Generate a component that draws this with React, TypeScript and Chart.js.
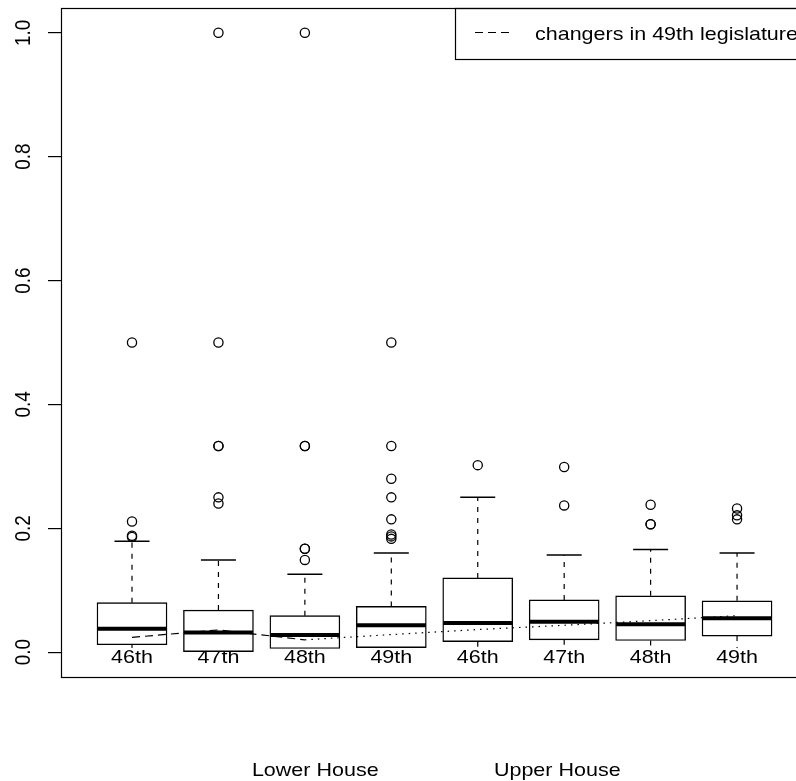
import { useEffect, useRef } from "react";
import { Chart, registerables } from "chart.js";

Chart.register(...registerables);

// ---- data ----
const categories = ["46th", "47th", "48th", "49th", "46th", "47th", "48th", "49th"];
const houseLabels = ["Lower House", "Upper House"];
const yTicks = [0, 0.2, 0.4, 0.6, 0.8, 1.0];
const whiskerLow = [0, 0, 0, 0, 0, 0, 0, 0];
const q1 = [0.012, 0.001, 0.006, 0.0075, 0.017, 0.02, 0.019, 0.026];
const medians = [0.038, 0.032, 0.028, 0.0435, 0.047, 0.049, 0.045, 0.055];
const q3 = [0.08, 0.068, 0.059, 0.074, 0.12, 0.0845, 0.091, 0.083];
const whiskerHigh = [0.179, 0.149, 0.126, 0.16, 0.25, 0.157, 0.166, 0.16];
const outliers = [
  [0.5, 0.211, 0.188, 0.186],
  [1.0, 0.5, 0.333, 0.333, 0.25, 0.24],
  [1.0, 0.333, 0.333, 0.167, 0.167, 0.149],
  [0.5, 0.333, 0.28, 0.25, 0.2145, 0.19, 0.187, 0.183],
  [0.302],
  [0.299, 0.237],
  [0.238, 0.2065, 0.2065],
  [0.232, 0.221, 0.2145],
];
const changersPositions = [1, 2, 3];
const changersValues = [0.024, 0.036, 0.02];
const crossPositions = [3, 4, 5, 6, 7, 8];
const crossValues = [0.02, 0.0285, 0.0366, 0.0435, 0.051, 0.059];
const legendLabel = "changers in 49th legislature";

const FONT = '"Liberation Sans", Arial, Helvetica, sans-serif';
const TEXT_FONT = `21.5px ${FONT}`;
const SQUASH = 0.88; // the reference's text is slightly compressed vertically
const BOX_DATASET = 2;

function squashedText(ctx: any, text: string, x: number, y: number, rotate = false) {
  ctx.save();
  ctx.translate(x, y);
  ctx.scale(1, SQUASH);
  if (rotate) ctx.rotate(-Math.PI / 2);
  ctx.fillText(text, 0, 0);
  ctx.restore();
}

const decorations = {
  id: "decorations",
  beforeDatasetDraw(chart: any, args: any) {
    if (args.index !== BOX_DATASET) return;
    const ctx = chart.ctx;
    const xs = chart.scales.x;
    ctx.save();
    ctx.font = TEXT_FONT;
    ctx.textAlign = "center";
    ctx.textBaseline = "alphabetic";
    categories.forEach((lab, i) => {
      const x = xs.getPixelForValue(i + 1);
      const base = 662.5;
      const m = ctx.measureText(lab);
      const asc = (m.actualBoundingBoxAscent || 15) * SQUASH;
      ctx.fillStyle = "#ffffff";
      ctx.fillRect(x - m.width / 2 - 1, base - asc - 0.5, m.width + 2, asc + 2);
      ctx.fillStyle = "#000000";
      squashedText(ctx, lab, x, base);
    });
    ctx.restore();
  },
  afterDraw(chart: any) {
    const ctx = chart.ctx;
    const { left, top, right, bottom } = chart.chartArea;
    const ys = chart.scales.y;
    const xs = chart.scales.x;
    ctx.save();
    // plot frame
    ctx.strokeStyle = "#000";
    ctx.lineWidth = 1.2;
    ctx.setLineDash([]);
    ctx.strokeRect(left + 0.5, top + 0.5, right - left + 10, bottom - top);
    // y tick labels (rotated, as in R)
    ctx.fillStyle = "#000";
    ctx.font = TEXT_FONT;
    ctx.textAlign = "center";
    ctx.textBaseline = "alphabetic";
    yTicks.forEach((v) => {
      squashedText(ctx, v.toFixed(1), 30, ys.getPixelForValue(v), true);
    });
    // house labels below the plot
    squashedText(ctx, houseLabels[0], xs.getPixelForValue(3.12), 776);
    squashedText(ctx, houseLabels[1], xs.getPixelForValue(5.92), 776);
    // legend box
    ctx.lineWidth = 1.2;
    ctx.strokeRect(455.5, top + 0.5, 500, 51);
    ctx.beginPath();
    ctx.setLineDash([8, 5]);
    ctx.moveTo(475, 32.5);
    ctx.lineTo(510, 32.5);
    ctx.stroke();
    ctx.setLineDash([]);
    ctx.textAlign = "left";
    squashedText(ctx, legendLabel, 535, 39.5);
    ctx.restore();
  },
};

export default function App() {
  const ref = useRef<HTMLCanvasElement | null>(null);

  useEffect(() => {
    if (!ref.current) return;
    Chart.defaults.font.family = FONT;

    const whiskerData: any[] = [];
    const capData: any[] = [];
    categories.forEach((_, i) => {
      const x = i + 1;
      whiskerData.push({ x, y: q3[i] }, { x, y: whiskerHigh[i] }, { x, y: null });
      whiskerData.push({ x, y: q1[i] }, { x, y: whiskerLow[i] }, { x, y: null });
      capData.push({ x, y: whiskerHigh[i] }, { x, y: whiskerLow[i] });
    });
    const outlierData: any[] = [];
    outliers.forEach((arr, i) => arr.forEach((v) => outlierData.push({ x: i + 1, y: v })));

    const chart = new Chart(ref.current, {
      type: "bar",
      data: {
        datasets: [
          {
            type: "line",
            label: "whiskers",
            data: whiskerData,
            borderColor: "#000",
            borderWidth: 1.2,
            borderDash: [5, 6],
            pointRadius: 0,
            spanGaps: false,
            order: 10,
          } as any,
          {
            type: "line",
            label: "caps",
            data: capData,
            showLine: false,
            pointStyle: "line",
            pointRadius: 17.5,
            pointBorderWidth: 1.5,
            pointBorderColor: "#000",
            order: 9,
          } as any,
          {
            type: "bar",
            label: "boxes",
            data: categories.map((_, i) => ({ x: i + 1, y: [q1[i], q3[i]] })),
            backgroundColor: "#ffffff",
            borderColor: "#000",
            borderWidth: 1.4,
            borderSkipped: false,
            barThickness: 70,
            grouped: false,
            order: 8,
          } as any,
          {
            type: "line",
            label: "medians",
            data: categories.map((_, i) => ({ x: i + 1, y: medians[i] })),
            showLine: false,
            pointStyle: "line",
            pointRadius: 34.5,
            pointBorderWidth: 4,
            pointBorderColor: "#000",
            order: 7,
          } as any,
          {
            type: "line",
            label: "outliers",
            data: outlierData,
            showLine: false,
            pointStyle: "circle",
            pointRadius: 4.6,
            pointBorderWidth: 1.3,
            pointBorderColor: "#000",
            pointBackgroundColor: "rgba(0,0,0,0)",
            order: 6,
          } as any,
          {
            type: "line",
            label: legendLabel,
            data: changersPositions.map((x, i) => ({ x, y: changersValues[i] })),
            borderColor: "#000",
            borderWidth: 1.2,
            borderDash: [8, 5],
            pointRadius: 0,
            order: 5,
          } as any,
          {
            type: "line",
            label: "cross",
            data: crossPositions.map((x, i) => ({ x, y: crossValues[i] })),
            borderColor: "#000",
            borderWidth: 1.2,
            borderDash: [1.5, 5],
            pointRadius: 0,
            order: 4,
          } as any,
        ],
      },
      options: {
        responsive: false,
        animation: false,
        layout: { autoPadding: false, padding: { left: 48, top: 8, right: 0, bottom: 104 } },
        plugins: { legend: { display: false }, tooltip: { enabled: false } },
        scales: {
          x: {
            type: "linear",
            display: false,
            min: 0.1785,
            max: 8.682,
            offset: false,
          },
          y: {
            type: "linear",
            position: "left",
            min: -0.04,
            max: 1.04,
            border: { display: false },
            grid: {
              drawOnChartArea: false,
              drawTicks: true,
              tickLength: 13,
              color: "#000",
              lineWidth: 1.2,
            },
            ticks: { display: false },
            afterBuildTicks: (scale: any) => {
              scale.ticks = yTicks.map((v) => ({ value: v }));
            },
            afterFit: (scale: any) => {
              scale.width = 13;
            },
          },
        },
      } as any,
      plugins: [decorations],
    });
    return () => chart.destroy();
  }, []);

  return (
    <div style={{ position: "fixed", left: 0, top: 0, width: 796, height: 781, background: "#fff" }}>
      <canvas ref={ref} width={796} height={781} style={{ display: "block" }} />
    </div>
  );
}
